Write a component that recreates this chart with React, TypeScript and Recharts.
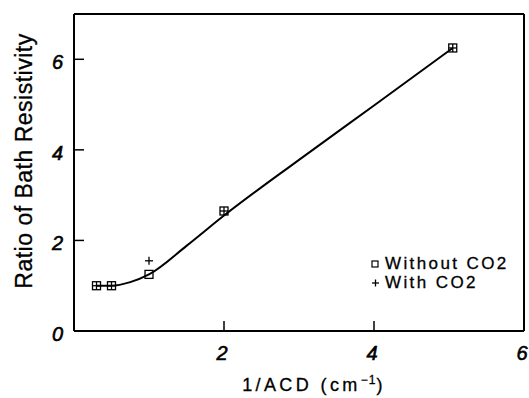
import { ComposedChart, Line, Scatter, XAxis, YAxis, Legend, ReferenceLine } from "recharts";

// measured points (1/ACD in cm^-1, resistivity ratio)
const withoutCO2 = [
  { x: 0.3, y: 1.0 },
  { x: 0.5, y: 1.0 },
  { x: 1.0, y: 1.25 },
  { x: 2.0, y: 2.65 },
  { x: 5.05, y: 6.25 },
];

const withCO2 = [
  { x: 0.3, y: 1.0 },
  { x: 0.5, y: 1.0 },
  { x: 1.0, y: 1.55 },
  { x: 2.0, y: 2.65 },
  { x: 5.05, y: 6.25 },
];

// hand-drawn fit curve through the data
const fitCurve = [
  { x: 0.3, y: 1.0 },
  { x: 0.5, y: 1.0 },
  { x: 0.75, y: 1.08 },
  { x: 1.0, y: 1.25 },
  { x: 1.5, y: 1.88 },
  { x: 2.0, y: 2.55 },
  { x: 3.0, y: 3.78 },
  { x: 4.0, y: 4.98 },
  { x: 5.05, y: 6.25 },
];

const xTicks = [2, 4, 6];
const yTicks = [0, 2, 4, 6];

const INK = "#000";
const FONT = "'Liberation Sans', Arial, sans-serif";

const SquareMark = (props: any) => {
  const { cx, cy } = props;
  return <rect x={cx - 4} y={cy - 4} width={8} height={8} fill="none" stroke={INK} strokeWidth={1.3} />;
};

const PlusMark = (props: any) => {
  const { cx, cy } = props;
  return (
    <g stroke={INK} strokeWidth={1.3}>
      <line x1={cx - 4} x2={cx + 4} y1={cy} y2={cy} />
      <line x1={cx} x2={cx} y1={cy - 4} y2={cy + 4} />
    </g>
  );
};

const YTick = (props: any) => {
  const { x, y, payload } = props;
  return (
    <g>
      {payload.value !== 0 && <line x1={x} x2={x + 10} y1={y} y2={y} stroke={INK} strokeWidth={1.5} />}
      <text
        x={x - 11}
        y={y + 10}
        textAnchor="end"
        fontSize={20}
        fontStyle="italic"
        fontFamily={FONT}
        fill={INK}
        stroke={INK}
        strokeWidth={0.6}
      >
        {payload.value}
      </text>
    </g>
  );
};

const XTick = (props: any) => {
  const { x, y, payload } = props;
  return (
    <g>
      {payload.value !== 6 && <line x1={x} x2={x} y1={y} y2={y - 10} stroke={INK} strokeWidth={1.5} />}
      <text
        x={x - 2}
        y={y + 29}
        textAnchor="middle"
        fontSize={20}
        fontStyle="italic"
        fontFamily={FONT}
        fill={INK}
        stroke={INK}
        strokeWidth={0.6}
      >
        {payload.value}
      </text>
    </g>
  );
};

const LegendBox = () => (
  <div
    style={{
      fontFamily: FONT,
      fontSize: 17,
      letterSpacing: 2.4,
      color: INK,
      lineHeight: "19px",
      WebkitTextStroke: "0.3px #000",
    }}
  >
    <div style={{ display: "flex", alignItems: "center" }}>
      <svg width={12} height={12} style={{ marginRight: 2 }}>
        <rect x={1} y={3} width={6} height={6} fill="none" stroke={INK} strokeWidth={1.2} />
      </svg>
      <span>Without CO2</span>
    </div>
    <div style={{ display: "flex", alignItems: "center" }}>
      <svg width={12} height={12} style={{ marginRight: 2 }}>
        <line x1={1} x2={8} y1={6} y2={6} stroke={INK} strokeWidth={1.3} />
        <line x1={4.5} x2={4.5} y1={2.5} y2={9.5} stroke={INK} strokeWidth={1.3} />
      </svg>
      <span>With CO2</span>
    </div>
  </div>
);

export default function App() {
  return (
    <div style={{ position: "absolute", left: 0, top: 0, background: "#fff" }}>
      <ComposedChart width={529} height={398} margin={{ top: 14, right: 5, bottom: 0, left: 0 }}>
        <XAxis
          type="number"
          dataKey="x"
          domain={[0, 6]}
          ticks={xTicks}
          tick={<XTick />}
          tickSize={0}
          tickMargin={0}
          height={67}
          axisLine={{ stroke: INK, strokeWidth: 2 }}
          tickLine={false}
          allowDataOverflow
          label={{
            content: () => (
              <text
                x={314}
                y={391}
                textAnchor="middle"
                fontSize={18}
                letterSpacing={3.4}
                fontFamily={FONT}
                fill={INK}
                stroke={INK}
                strokeWidth={0.3}
              >
                <tspan>1/ACD (cm</tspan>
                <tspan dy={-7} fontSize={12} letterSpacing={1}>−1</tspan>
                <tspan dy={7}>)</tspan>
              </text>
            ),
          }}
        />
        <YAxis
          type="number"
          domain={[0, 7]}
          ticks={yTicks}
          tick={<YTick />}
          tickSize={0}
          tickMargin={0}
          width={74}
          axisLine={{ stroke: INK, strokeWidth: 2 }}
          tickLine={false}
          allowDataOverflow
          label={{
            content: () => (
              <text
                x={32}
                y={161}
                transform="rotate(-90 32 161)"
                textAnchor="middle"
                fontSize={23}
                letterSpacing={0.5}
                fontFamily={FONT}
                fill={INK}
                stroke={INK}
                strokeWidth={0.3}
              >
                Ratio of Bath Resistivity
              </text>
            ),
          }}
        />
        <ReferenceLine y={7} stroke={INK} strokeWidth={2} />
        <ReferenceLine x={6} stroke={INK} strokeWidth={2} />
        <Line
          data={fitCurve}
          dataKey="y"
          type="monotone"
          stroke={INK}
          strokeWidth={2}
          dot={false}
          activeDot={false}
          isAnimationActive={false}
          legendType="none"
        />
        <Scatter name="Without CO2" data={withoutCO2} dataKey="y" shape={<SquareMark />} isAnimationActive={false} />
        <Scatter name="With CO2" data={withCO2} dataKey="y" shape={<PlusMark />} isAnimationActive={false} />
        <Legend
          layout="vertical"
          align="center"
          verticalAlign="middle"
          content={<LegendBox />}
          wrapperStyle={{ left: 371, top: 254, width: 155 }}
        />
      </ComposedChart>
    </div>
  );
}
